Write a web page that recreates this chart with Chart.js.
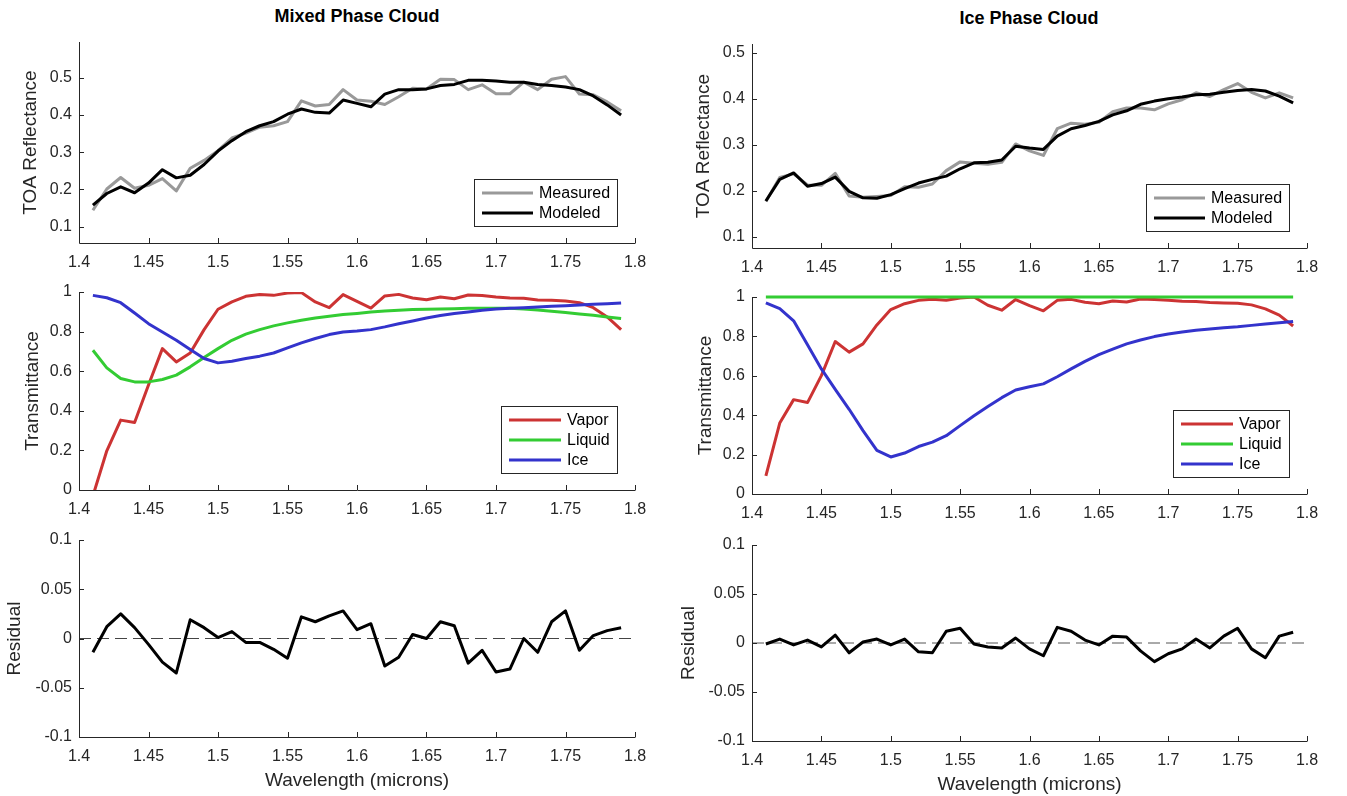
<!DOCTYPE html>
<html>
<head>
<meta charset="utf-8">
<script src="https://cdn.jsdelivr.net/npm/chart.js@4.4.1/dist/chart.umd.min.js"></script>
<style>
  html, body { margin: 0; padding: 0; background: #fff; overflow: hidden; }
  body { width: 1347px; height: 796px; position: relative; font-family: "Liberation Sans", Arial, sans-serif; }
  canvas { position: absolute; }
  .title { position: absolute; width: 400px; text-align: center; font-weight: bold; font-size: 18px; line-height: 22px; color: #000; }
</style>
</head>
<body>
<div class="title" style="left:157px; top:5px;">Mixed Phase Cloud</div>
<div class="title" style="left:829px; top:7px;">Ice Phase Cloud</div>
<script>
const wavelength = [1.41, 1.42, 1.43, 1.44, 1.45, 1.46, 1.47, 1.48, 1.49, 1.50, 1.51, 1.52, 1.53,
  1.54, 1.55, 1.56, 1.57, 1.58, 1.59, 1.60, 1.61, 1.62, 1.63, 1.64, 1.65, 1.66, 1.67, 1.68,
  1.69, 1.70, 1.71, 1.72, 1.73, 1.74, 1.75, 1.76, 1.77, 1.78, 1.79];

// mixed phase cloud
const mixedMeasured = [0.144, 0.201, 0.232, 0.203, 0.211, 0.229, 0.196, 0.257, 0.278, 0.304, 0.338, 0.351, 0.367,
  0.371, 0.382, 0.438, 0.424, 0.428, 0.468, 0.440, 0.437, 0.428, 0.449, 0.472, 0.470, 0.496, 0.495, 0.468,
  0.481, 0.457, 0.457, 0.488, 0.468, 0.496, 0.503, 0.456, 0.454, 0.435, 0.411];
const mixedModeled = [0.158, 0.189, 0.207, 0.191, 0.217, 0.253, 0.231, 0.238, 0.267, 0.303, 0.331, 0.355, 0.371,
  0.382, 0.402, 0.416, 0.407, 0.405, 0.440, 0.431, 0.422, 0.456, 0.468, 0.468, 0.470, 0.479, 0.482, 0.493,
  0.493, 0.491, 0.488, 0.488, 0.482, 0.479, 0.475, 0.468, 0.451, 0.427, 0.400];
const mixedVapor = [-0.03, 0.198, 0.353, 0.341, 0.53, 0.714, 0.647, 0.692, 0.81, 0.913, 0.95, 0.978, 0.987,
  0.983, 0.995, 0.997, 0.95, 0.921, 0.987, 0.953, 0.919, 0.98, 0.988, 0.97, 0.961, 0.975, 0.966, 0.985,
  0.982, 0.975, 0.97, 0.968, 0.96, 0.958, 0.955, 0.946, 0.921, 0.874, 0.81];
const mixedLiquid = [0.706, 0.617, 0.563, 0.546, 0.546, 0.558, 0.58, 0.622, 0.669, 0.714, 0.756, 0.787, 0.81,
  0.829, 0.844, 0.857, 0.869, 0.877, 0.886, 0.892, 0.899, 0.904, 0.908, 0.911, 0.913, 0.914, 0.916, 0.918,
  0.918, 0.918, 0.918, 0.914, 0.909, 0.903, 0.896, 0.889, 0.882, 0.874, 0.866];
const mixedIce = [0.983, 0.971, 0.946, 0.894, 0.84, 0.798, 0.756, 0.709, 0.664, 0.642, 0.65, 0.664, 0.676,
  0.692, 0.718, 0.743, 0.765, 0.785, 0.798, 0.803, 0.81, 0.824, 0.84, 0.854, 0.869, 0.881, 0.891, 0.899,
  0.908, 0.914, 0.918, 0.921, 0.924, 0.928, 0.931, 0.934, 0.938, 0.941, 0.945];
const mixedResidual = [-0.014, 0.012, 0.025, 0.011, -0.006, -0.024, -0.035, 0.019, 0.011, 0.001, 0.007, -0.004, -0.004,
  -0.011, -0.020, 0.022, 0.017, 0.023, 0.028, 0.009, 0.015, -0.028, -0.019, 0.004, 0.000, 0.017, 0.013, -0.025,
  -0.012, -0.034, -0.031, 0.000, -0.014, 0.017, 0.028, -0.012, 0.003, 0.008, 0.011];

// ice phase cloud
const iceMeasured = [0.177, 0.229, 0.237, 0.213, 0.212, 0.238, 0.189, 0.186, 0.188, 0.190, 0.209, 0.208, 0.215,
  0.244, 0.263, 0.260, 0.258, 0.262, 0.302, 0.287, 0.277, 0.335, 0.347, 0.345, 0.349, 0.372, 0.380, 0.380,
  0.376, 0.389, 0.398, 0.413, 0.405, 0.420, 0.433, 0.414, 0.402, 0.413, 0.402];
const iceModeled = [0.178, 0.225, 0.239, 0.210, 0.216, 0.230, 0.199, 0.185, 0.184, 0.192, 0.205, 0.217, 0.225,
  0.232, 0.248, 0.261, 0.262, 0.267, 0.297, 0.293, 0.290, 0.319, 0.335, 0.342, 0.351, 0.365, 0.374, 0.388,
  0.395, 0.400, 0.404, 0.409, 0.410, 0.414, 0.418, 0.420, 0.417, 0.406, 0.391];
const iceVapor = [0.092, 0.36, 0.479, 0.464, 0.601, 0.774, 0.72, 0.762, 0.858, 0.936, 0.966, 0.983, 0.988,
  0.983, 0.995, 1.0, 0.958, 0.933, 0.987, 0.956, 0.93, 0.983, 0.988, 0.973, 0.966, 0.98, 0.975, 0.99,
  0.987, 0.983, 0.978, 0.977, 0.972, 0.97, 0.968, 0.96, 0.94, 0.908, 0.853];
const iceLiquid = [1.0, 1.0, 1.0, 1.0, 1.0, 1.0, 1.0, 1.0, 1.0, 1.0, 1.0, 1.0, 1.0,
  1.0, 1.0, 1.0, 1.0, 1.0, 1.0, 1.0, 1.0, 1.0, 1.0, 1.0, 1.0, 1.0, 1.0, 1.0,
  1.0, 1.0, 1.0, 1.0, 1.0, 1.0, 1.0, 1.0, 1.0, 1.0, 1.0];
const iceIce = [0.97, 0.941, 0.879, 0.757, 0.635, 0.531, 0.43, 0.322, 0.221, 0.188, 0.208, 0.241, 0.263,
  0.296, 0.347, 0.397, 0.444, 0.489, 0.528, 0.544, 0.559, 0.595, 0.635, 0.673, 0.707, 0.735, 0.762, 0.782,
  0.799, 0.812, 0.822, 0.831, 0.838, 0.844, 0.849, 0.856, 0.863, 0.869, 0.876];
const iceResidual = [-0.001, 0.004, -0.002, 0.003, -0.004, 0.008, -0.010, 0.001, 0.004, -0.002, 0.004, -0.009, -0.010,
  0.012, 0.015, -0.001, -0.004, -0.005, 0.005, -0.006, -0.013, 0.016, 0.012, 0.003, -0.002, 0.007, 0.006, -0.008,
  -0.019, -0.011, -0.006, 0.004, -0.005, 0.007, 0.015, -0.006, -0.015, 0.007, 0.011];

const zeroX = [1.4, 1.8];
const zeroY = [0, 0];

const xTicks = [1.4, 1.45, 1.5, 1.55, 1.6, 1.65, 1.7, 1.75, 1.8];
const reflTicks = [0.1, 0.2, 0.3, 0.4, 0.5];
const transTicks = [0, 0.2, 0.4, 0.6, 0.8, 1];
const residTicks = [-0.1, -0.05, 0, 0.05, 0.1];

const FONT = '"Liberation Sans", Arial, sans-serif';
const AXIS_COLOR = '#262626';

// MATLAB style axes: left and bottom lines, ticks pointing inwards
const matlabAxes = {
  id: 'matlabAxes',
  afterDraw(chart) {
    const { ctx, chartArea: a, scales: { x, y } } = chart;
    ctx.save();
    ctx.strokeStyle = AXIS_COLOR;
    ctx.lineWidth = 1;
    ctx.beginPath();
    ctx.moveTo(a.left + 0.5, a.top);
    ctx.lineTo(a.left + 0.5, a.bottom + 0.5);
    ctx.lineTo(a.right + 0.5, a.bottom + 0.5);
    x.ticks.forEach(t => {
      const px = Math.round(x.getPixelForValue(t.value)) + 0.5;
      ctx.moveTo(px, a.bottom);
      ctx.lineTo(px, a.bottom - 5);
    });
    y.ticks.forEach(t => {
      const py = Math.round(y.getPixelForValue(t.value)) + 0.5;
      ctx.moveTo(a.left, py);
      ctx.lineTo(a.left + 5, py);
    });
    ctx.stroke();
    ctx.restore();
  }
};

// boxed legend in the lower right corner of the plot
const boxLegend = {
  id: 'boxLegend',
  afterDraw(chart, args, opts) {
    if (!opts.show) return;
    const items = chart.data.datasets.filter(d => d.inLegend);
    const a = chart.chartArea;
    const ctx = chart.ctx;
    const h = 27 + (items.length - 1) * 20;
    const x0 = Math.round(a.right - 18 - opts.width);
    const y0 = Math.round(a.bottom - 17 - h);
    ctx.save();
    ctx.fillStyle = '#fff';
    ctx.fillRect(x0, y0, opts.width, h);
    ctx.strokeStyle = AXIS_COLOR;
    ctx.lineWidth = 1;
    ctx.strokeRect(x0 + 0.5, y0 + 0.5, opts.width, h);
    ctx.font = '16px ' + FONT;
    ctx.textBaseline = 'middle';
    items.forEach((d, i) => {
      const yy = y0 + 14 + i * 20;
      ctx.strokeStyle = d.borderColor;
      ctx.lineWidth = 3;
      ctx.beginPath();
      ctx.moveTo(x0 + 8, yy);
      ctx.lineTo(x0 + opts.lineEnd, yy);
      ctx.stroke();
      ctx.fillStyle = '#000';
      ctx.fillText(d.label, x0 + opts.lineEnd + 6, yy + 1);
    });
    ctx.restore();
  }
};

function makePanel(p) {
  const yW = 78, padTop = 10, padRight = 24;
  const c = document.createElement('canvas');
  c.width = yW + (p.area[2] - p.area[0]) + padRight;
  c.height = padTop + (p.area[3] - p.area[1]) + p.xH;
  c.style.left = (p.area[0] - yW) + 'px';
  c.style.top = (p.area[1] - padTop) + 'px';
  document.body.appendChild(c);

  const n = p.series.length;
  new Chart(c, {
    type: 'line',
    data: {
      datasets: p.series.map((s, i) => {
        const ds = {
          label: s.label,
          data: s.x.map((xv, k) => ({ x: xv, y: s.y[k] })),
          borderColor: s.color,
          borderWidth: s.width || 3,
          borderDash: s.dash || [],
          inLegend: !!s.label,
          order: n - i,
          pointRadius: 0,
          tension: 0,
          fill: false,
          borderJoinStyle: 'round'
        };
        if (s.clip !== undefined) ds.clip = s.clip;
        return ds;
      })
    },
    options: {
      responsive: false,
      animation: false,
      devicePixelRatio: 1,
      layout: { padding: { left: 0, top: padTop, right: padRight, bottom: 0 } },
      plugins: {
        legend: { display: false },
        tooltip: { enabled: false },
        boxLegend: p.legend
      },
      scales: {
        x: {
          type: 'linear', position: 'bottom', min: 1.4, max: 1.8,
          afterBuildTicks: s => { s.ticks = xTicks.map(v => ({ value: v })); },
          afterFit: s => { s.height = p.xH; s.paddingLeft = 0; s.paddingRight = 0; },
          grid: { display: false, drawTicks: false },
          border: { display: false },
          ticks: { padding: 10, color: AXIS_COLOR, font: { family: FONT, size: 16 },
                   maxRotation: 0, autoSkip: false, callback: v => String(v) },
          title: { display: !!p.xTitle, text: p.xTitle || '', color: AXIS_COLOR,
                   font: { family: FONT, size: 19 }, padding: { top: 0, bottom: 0 } }
        },
        y: {
          type: 'linear', position: 'left', min: p.yMin, max: p.yMax,
          afterBuildTicks: s => { s.ticks = p.yTicks.map(v => ({ value: v })); },
          afterFit: s => { s.width = yW; s.paddingTop = 0; s.paddingBottom = 0; },
          grid: { display: false, drawTicks: false },
          border: { display: false },
          ticks: { padding: 7, color: AXIS_COLOR, font: { family: FONT, size: 16 },
                   autoSkip: false, callback: v => String(v) },
          title: { display: true, text: p.yTitle, color: AXIS_COLOR,
                   font: { family: FONT, size: 19 }, padding: { top: p.yTitlePad, bottom: 0 } }
        }
      }
    },
    plugins: [matlabAxes, boxLegend]
  });
}

const reflLegend = { show: true, width: 143, lineEnd: 59 };
const transLegend = { show: true, width: 116, lineEnd: 60 };
const noLegend = { show: false };

const panels = [
  { area: [79, 42, 635, 243], xH: 30, yMin: 0.056, yMax: 0.596, yTicks: reflTicks,
    yTitle: 'TOA Reflectance', yTitlePad: 18, legend: reflLegend,
    series: [
      { label: 'Measured', x: wavelength, y: mixedMeasured, color: '#999999' },
      { label: 'Modeled', x: wavelength, y: mixedModeled, color: '#000000' }
    ] },
  { area: [79, 292, 635, 490], xH: 30, yMin: 0, yMax: 1, yTicks: transTicks,
    yTitle: 'Transmittance', yTitlePad: 20, legend: transLegend,
    series: [
      { label: 'Vapor', x: wavelength, y: mixedVapor, color: '#cc3333' },
      { label: 'Liquid', x: wavelength, y: mixedLiquid, color: '#33cc33' },
      { label: 'Ice', x: wavelength, y: mixedIce, color: '#3333cc' }
    ] },
  { area: [79, 540, 635, 737], xH: 55, yMin: -0.1, yMax: 0.1, yTicks: residTicks,
    yTitle: 'Residual', yTitlePad: 2, legend: noLegend, xTitle: 'Wavelength (microns)',
    series: [
      { x: zeroX, y: zeroY, color: '#444444', width: 1, dash: [12, 6] },
      { x: wavelength, y: mixedResidual, color: '#000000' }
    ] },
  { area: [752, 44, 1307, 248], xH: 30, yMin: 0.076, yMax: 0.519, yTicks: reflTicks,
    yTitle: 'TOA Reflectance', yTitlePad: 18, legend: reflLegend,
    series: [
      { label: 'Measured', x: wavelength, y: iceMeasured, color: '#999999' },
      { label: 'Modeled', x: wavelength, y: iceModeled, color: '#000000' }
    ] },
  { area: [752, 297, 1307, 494], xH: 30, yMin: 0, yMax: 1, yTicks: transTicks,
    yTitle: 'Transmittance', yTitlePad: 20, legend: transLegend,
    series: [
      { label: 'Vapor', x: wavelength, y: iceVapor, color: '#cc3333' },
      { label: 'Liquid', x: wavelength, y: iceLiquid, color: '#33cc33', clip: 3 },
      { label: 'Ice', x: wavelength, y: iceIce, color: '#3333cc' }
    ] },
  { area: [752, 545, 1307, 741], xH: 55, yMin: -0.1, yMax: 0.1, yTicks: residTicks,
    yTitle: 'Residual', yTitlePad: 3, legend: noLegend, xTitle: 'Wavelength (microns)',
    series: [
      { x: zeroX, y: zeroY, color: '#555555', width: 1, dash: [12, 6] },
      { x: wavelength, y: iceResidual, color: '#000000' }
    ] }
];

panels.forEach(makePanel);
</script>
</body>
</html>
